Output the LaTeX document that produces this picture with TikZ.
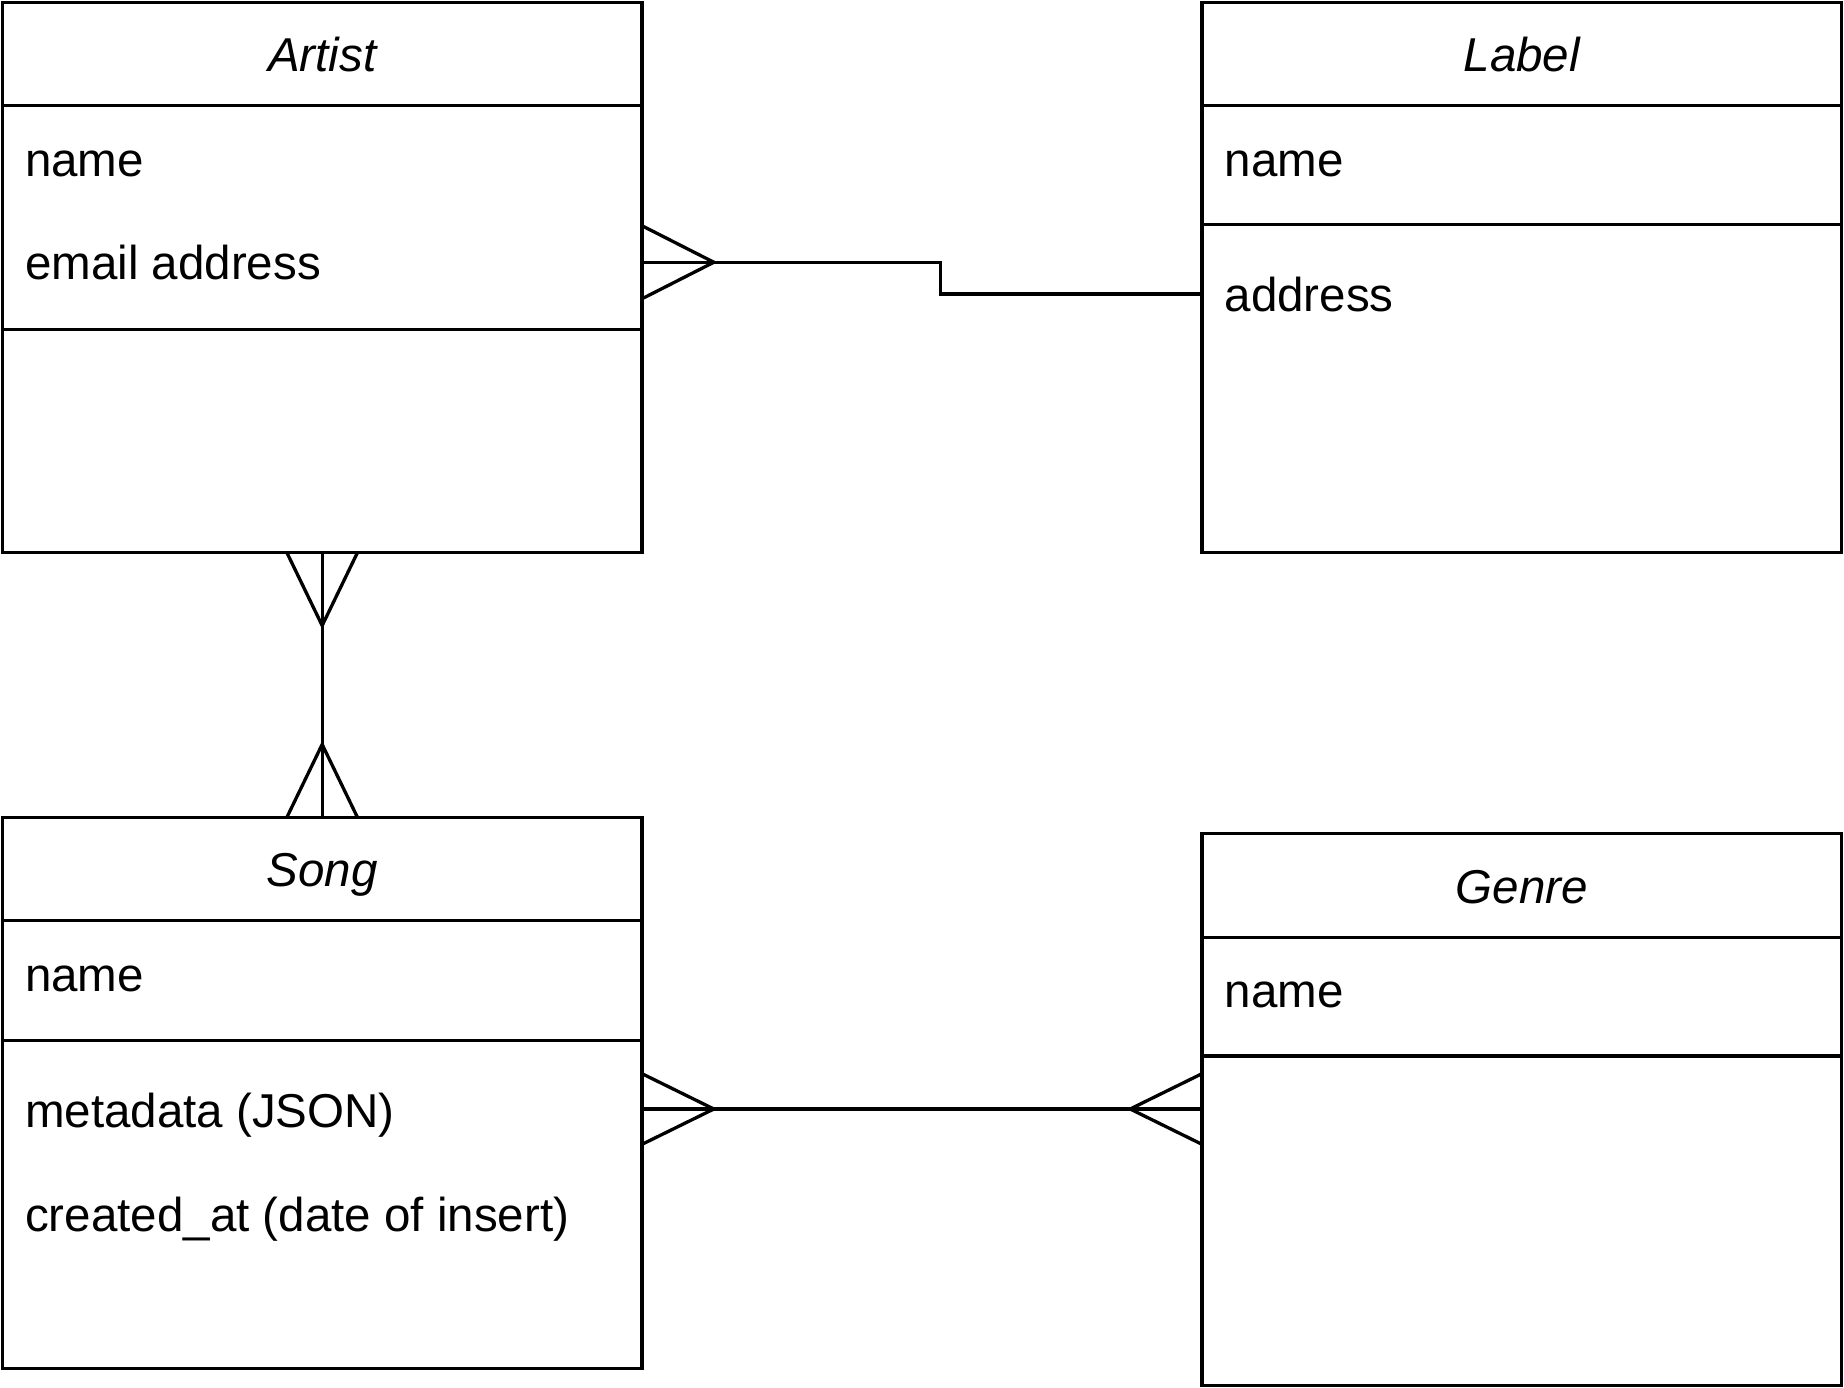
\documentclass[tikz,border=0pt]{standalone}
\usepackage{fontspec}
\setmainfont{Liberation Sans}
\usetikzlibrary{positioning, calc}

\begin{document}
\begin{tikzpicture}[x=0.02cm, y=-0.02cm,
    entitybox/.style={rectangle, draw, line width=1.6pt, inner sep=0pt, outer sep=0pt,
                      anchor=north west, minimum width=10.88cm},
    entitytitle/.style={font=\fontsize{23}{28}\selectfont\itshape, anchor=base, inner sep=0pt},
    entityitem/.style={font=\fontsize{23}{28}\selectfont, anchor=base west, inner sep=0pt},
    divider/.style={line width=1.6pt},
    relation/.style={line width=1.6pt}
]
\useasboundingbox (0,0) rectangle (1568,1180);

% Artist box
\node[entitybox, minimum height=9.36cm] (artist) at (2,2) {};
\node[entitytitle] (artisttitle) at (274,61) {Artist};
\draw[divider] (2,90) -- (546,90);
\draw[divider] (2,280) -- (546,280);
\node[entityitem] (artistname) at (21,150) {name};
\node[entityitem] (artistmail) at (21,238) {email address};

% Label box
\node[entitybox, minimum height=9.36cm] (label) at (1022,2) {};
\node[entitytitle] (labeltitle) at (1294,61) {Label};
\draw[divider] (1022,90) -- (1566,90);
\draw[divider] (1022,191) -- (1566,191);
\node[entityitem] (labelname) at (1041,150) {name};
\node[entityitem] (labeladdr) at (1041,265) {address};

% Song box
\node[entitybox, minimum height=9.38cm] (song) at (2,695) {};
\node[entitytitle] (songtitle) at (274,754) {Song};
\draw[divider] (2,783) -- (546,783);
\draw[divider] (2,885) -- (546,885);
\node[entityitem] (songname) at (21,843) {name};
\node[entityitem] (songmeta) at (21,959) {metadata (JSON)};
\node[entityitem] (songdate) at (21,1047) {created\_at (date of insert)};

% Genre box
\node[entitybox, minimum height=9.38cm] (genre) at (1022,709) {};
\node[entitytitle] (genretitle) at (1294,768) {Genre};
\draw[divider] (1022,797) -- (1566,797);
\draw[divider] (1022,898) -- (1566,898);
\node[entityitem] (genrename) at (1041,857) {name};

% Artist -- Label
\coordinate (artistR) at (546,223);
\coordinate (labelL) at (1022,250);
\draw[relation] (artistR) -- ++(254,0) |- (labelL);
\draw[relation] ($(artistR)+(0,-31)$) -- ($(artistR)+(61,0)$) -- ($(artistR)+(0,31)$);

% Artist -- Song
\draw[relation] (artist.south) -- (song.north);
\draw[relation] ($(artist.south)+(-30,0)$) -- ($(artist.south)+(0,62)$) -- ($(artist.south)+(30,0)$);
\draw[relation] ($(song.north)+(-30,0)$) -- ($(song.north)+(0,-62)$) -- ($(song.north)+(30,0)$);

% Song -- Genre
\coordinate (songR) at (546,943);
\coordinate (genreL) at (1022,943);
\draw[relation] (songR) -- (genreL);
\draw[relation] ($(songR)+(0,-30)$) -- ($(songR)+(61,0)$) -- ($(songR)+(0,30)$);
\draw[relation] ($(genreL)+(0,-30)$) -- ($(genreL)+(-61,0)$) -- ($(genreL)+(0,30)$);

\end{tikzpicture}
\end{document}
